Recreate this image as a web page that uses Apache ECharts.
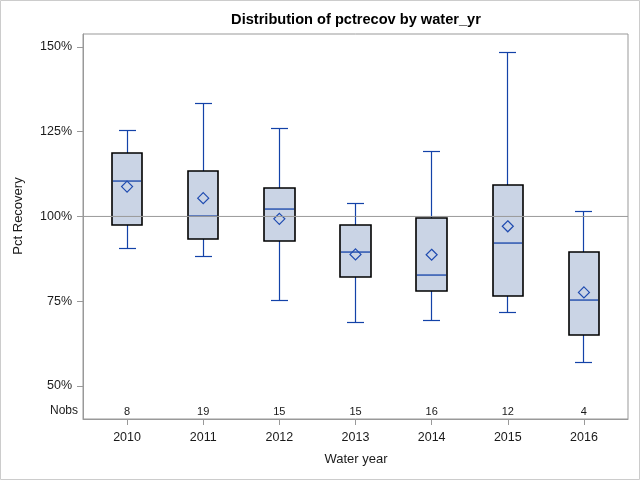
<!DOCTYPE html>
<html>
<head>
<meta charset="utf-8">
<script src="https://cdn.jsdelivr.net/npm/echarts@6/dist/echarts.min.js"></script>
<style>
html,body{margin:0;padding:0;background:#fff;}
#c{width:640px;height:480px;}
</style>
</head>
<body>
<div id="c"></div>
<script>
// ---- data ----
var years = ['2010', '2011', '2012', '2013', '2014', '2015', '2016'];
var minV  = [90.8, 88.3, 75.4, 69.0, 69.5, 71.7, 57.1];
var q1V   = [97.5, 93.4, 92.8, 82.2, 78.1, 76.6, 65.1];
var medV  = [110.5, 100.2, 102.3, 89.4, 82.6, 92.2, 75.4];
var q3V   = [118.7, 113.4, 108.5, 97.5, 99.6, 109.3, 89.6];
var maxV  = [125.6, 133.5, 126.0, 104.0, 119.3, 148.6, 101.7];
var meanV = [108.8, 105.4, 99.3, 88.8, 88.7, 97.1, 77.6];
var nobs  = [8, 19, 15, 15, 16, 12, 4];
var yTicks = [50, 75, 100, 125, 150];
var refValue = 100;

var Y_MIN = 40.27, Y_MAX = 153.8, NOBS_Y = 42.4;
var BLUE = '#1342A8', BOXFILL = '#CAD4E5', TXT = '#1a1a1a', FONT = 'Liberation Sans, Arial, sans-serif';

var boxData = years.map(function (y, i) {
  return [i, minV[i], q1V[i], medV[i], q3V[i], maxV[i], meanV[i], nobs[i]];
});

function fillRect(x, y, w, h) {
  return { type: 'rect', shape: { x: x, y: y, width: w, height: h }, style: { fill: BLUE, stroke: null } };
}

function renderItem(params, api) {
  var i = api.value(0);
  var pMin = api.coord([i, api.value(1)]);
  var pQ1 = api.coord([i, api.value(2)]);
  var pMed = api.coord([i, api.value(3)]);
  var pQ3 = api.coord([i, api.value(4)]);
  var pMax = api.coord([i, api.value(5)]);
  var pMean = api.coord([i, api.value(6)]);
  var pN = api.coord([i, NOBS_Y]);
  var bw = api.size([1, 0])[0] * 0.4;
  var cx = Math.floor(pMin[0]);
  var x0 = Math.round(pMin[0] - bw / 2), x1 = Math.round(pMin[0] + bw / 2);
  var cap = Math.round(bw / 4);
  var yMin = Math.round(pMin[1]), yQ1 = Math.round(pQ1[1]), yMed = Math.round(pMed[1]), yQ3 = Math.round(pQ3[1]), yMax = Math.round(pMax[1]);
  var d = 5.5, mx = pMean[0], my = pMean[1];
  return {
    type: 'group',
    children: [
      fillRect(cx - 0.1, yMax, 1.2, yQ3 - yMax),
      fillRect(cx - 0.1, yQ1, 1.2, yMin - yQ1),
      fillRect(cx - cap, yMax - 0.1, 2 * cap + 1, 1.2),
      fillRect(cx - cap, yMin - 0.1, 2 * cap + 1, 1.2),
      { type: 'rect', shape: { x: x0, y: yQ3, width: x1 - x0, height: yQ1 - yQ3 }, style: { fill: BOXFILL, stroke: '#000', lineWidth: 1.6 } },
      fillRect(x0 + 1, yMed - 0.6, x1 - x0 - 2, 1.3),
      { type: 'polygon', shape: { points: [[mx, my - d], [mx + d, my], [mx, my + d], [mx - d, my]] }, style: { fill: null, stroke: '#1F4BB0', lineWidth: 1.2 } },
      { type: 'text', x: pMin[0], y: pN[1], style: { text: String(api.value(7)), fill: TXT, font: '11px ' + FONT, align: 'center', verticalAlign: 'middle' } }
    ]
  };
}

var chart = echarts.init(document.getElementById('c'), null, { renderer: 'canvas' });
chart.setOption({
  animation: false,
  backgroundColor: '#fff',
  graphic: [
    { type: 'rect', shape: { x: 0.5, y: 0.5, width: 639, height: 479 }, style: { fill: null, stroke: '#CCCCCC', lineWidth: 1 }, silent: true },
    { type: 'text', x: 356, y: 20, style: { text: 'Distribution of pctrecov by water_yr', font: 'bold 14.6px ' + FONT, fill: '#000', align: 'center', verticalAlign: 'middle' } },
    { type: 'text', x: 18, y: 216, rotation: Math.PI / 2, style: { text: 'Pct Recovery', font: '13px ' + FONT, fill: TXT, align: 'center', verticalAlign: 'middle' } },
    { type: 'text', x: 78, y: 411, style: { text: 'Nobs', font: '12px ' + FONT, fill: TXT, align: 'right', verticalAlign: 'middle' } },
    { type: 'text', x: 356, y: 459, style: { text: 'Water year', font: '13px ' + FONT, fill: TXT, align: 'center', verticalAlign: 'middle' } }
  ],
  grid: [
    { left: 83, right: 12, top: 34, bottom: 61, show: true, borderColor: '#999', borderWidth: 1, backgroundColor: 'transparent' },
    { left: 89, right: 18, top: 34, bottom: 61 }
  ],
  xAxis: [
    { type: 'value', gridIndex: 0, min: 0, max: 1, show: true, axisLine: { show: true, lineStyle: { color: '#999' } }, axisTick: { show: false }, axisLabel: { show: false }, splitLine: { show: false } },
    { type: 'category', gridIndex: 1, data: years, boundaryGap: true,
      axisLine: { show: false },
      axisTick: { show: true, alignWithLabel: true, length: 6, lineStyle: { color: '#999' } },
      axisLabel: { fontFamily: FONT, fontSize: 12.5, color: TXT, margin: 12 },
      splitLine: { show: false } }
  ],
  yAxis: [
    { type: 'value', gridIndex: 0, min: Y_MIN, max: Y_MAX,
      axisLine: { show: true, lineStyle: { color: '#999' } },
      axisTick: { show: true, length: 6, customValues: yTicks, lineStyle: { color: '#999' } },
      axisLabel: { customValues: yTicks, fontFamily: FONT, fontSize: 12.5, color: TXT, margin: 11, formatter: function (v) { return v + '%'; } },
      splitLine: { show: false } },
    { type: 'value', gridIndex: 1, min: Y_MIN, max: Y_MAX, show: false, splitLine: { show: false } }
  ],
  series: [
    { type: 'custom', xAxisIndex: 1, yAxisIndex: 1, renderItem: renderItem, data: boxData, z: 2, silent: true },
    { type: 'line', xAxisIndex: 0, yAxisIndex: 0, data: [[0, refValue], [1, refValue]], symbol: 'none', z: 5, silent: true,
      lineStyle: { color: '#999', width: 1 } }
  ]
});
</script>
</body>
</html>
